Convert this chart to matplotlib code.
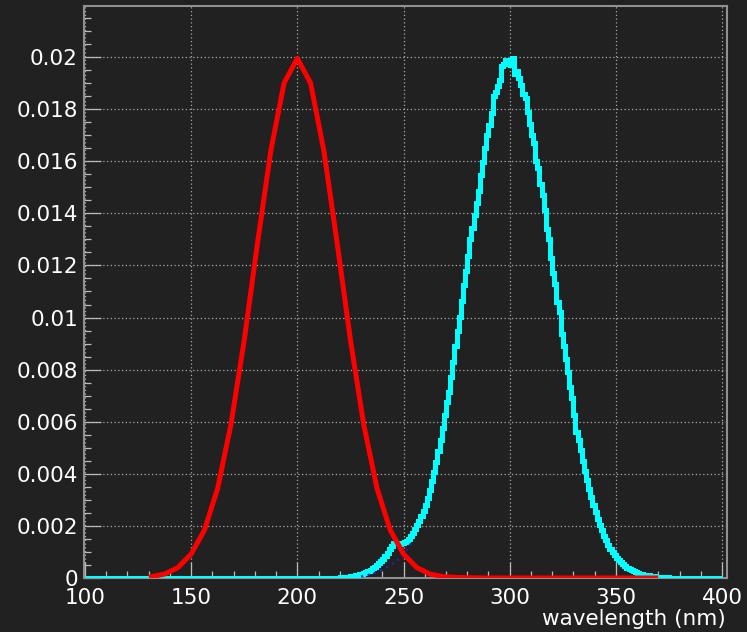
import matplotlib
matplotlib.use("Agg")
import matplotlib.pyplot as plt
import numpy as np
from matplotlib.ticker import MultipleLocator, FixedLocator, FixedFormatter

# red curve: sampled points of the smooth function (wavelength in nm)
red_wl = [131.25, 137.5, 143.75, 150, 156.25, 162.5, 168.75, 175, 181.25, 187.5,
          193.75, 200, 206.25, 212.5, 218.75, 225, 231.25, 237.5, 243.75, 250,
          256.25, 262.5, 268.75, 275, 281.25, 287.5, 293.75, 300, 306.25, 312.5,
          318.75, 325, 331.25, 337.5, 343.75, 350, 356.25, 362.5, 368.75]
red_val = [0.00005, 0.00015, 0.00040, 0.00092, 0.00184, 0.00345, 0.00590, 0.00914, 0.01286, 0.01640,
           0.01900, 0.01995, 0.01900, 0.01640, 0.01286, 0.00914, 0.00590, 0.00345, 0.00184, 0.00092,
           0.00040, 0.00015, 0.00005, 0.00002, 0.00001, 0.0, 0.0, 0.0, 0.0, 0.0,
           0.0, 0.0, 0.0, 0.0, 0.0, 0.0, 0.0, 0.0, 0.0]

# cyan histogram: 1 nm bins from 100 to 400, non-zero content from bin 220 on
hist_lo, hist_hi = 100, 400
cyan_first_bin = 220
cyan_val = [
    0.00002, 0.00002, 0.00003, 0.00004, 0.00005, 0.00007, 0.00008, 0.00010, 0.00012, 0.00014,  # 220
    0.00017, 0.00020, 0.00024, 0.00028, 0.00032, 0.00037, 0.00043, 0.00050, 0.00057, 0.00065,  # 230
    0.00074, 0.00085, 0.00097, 0.00110, 0.00124, 0.00133, 0.00136, 0.00135, 0.00131, 0.00133,  # 240
    0.00137, 0.00142, 0.00150, 0.00160, 0.00172, 0.00187, 0.00203, 0.00220, 0.00238, 0.00258,  # 250
    0.00282, 0.00308, 0.00338, 0.00372, 0.00408, 0.00446, 0.00486, 0.00528, 0.00575, 0.00624,  # 260
    0.00676, 0.00716, 0.00772, 0.00828, 0.00889, 0.00948, 0.01003, 0.01065, 0.01125, 0.01180,  # 270
    0.01238, 0.01302, 0.01345, 0.01392, 0.01438, 0.01487, 0.01548, 0.01596, 0.01650, 0.01702,  # 280
    0.01741, 0.01785, 0.01852, 0.01866, 0.01890, 0.01912, 0.01965, 0.01972, 0.01990, 0.01985,  # 290
    0.01968, 0.01995, 0.01935, 0.01945, 0.01920, 0.01892, 0.01860, 0.01843, 0.01790, 0.01745,  # 300
    0.01700, 0.01672, 0.01600, 0.01575, 0.01512, 0.01470, 0.01413, 0.01340, 0.01300, 0.01228,  # 310
    0.01170, 0.01130, 0.01060, 0.01020, 0.00935, 0.00890, 0.00840, 0.00790, 0.00735, 0.00690,  # 320
    0.00625, 0.00560, 0.00530, 0.00492, 0.00450, 0.00410, 0.00378, 0.00340, 0.00310, 0.00282,  # 330
    0.00252, 0.00228, 0.00205, 0.00183, 0.00160, 0.00145, 0.00128, 0.00112, 0.00100, 0.00088,  # 340
    0.00078, 0.00068, 0.00060, 0.00052, 0.00045, 0.00040, 0.00035, 0.00030, 0.00026, 0.00023,  # 350
    0.00020, 0.00017, 0.00015, 0.00013, 0.00011, 0.00010, 0.00008, 0.00007, 0.00006, 0.00005,  # 360
    0.00004, 0.00003, 0.00003, 0.00002, 0.00002,                                               # 370
]

# blue dotted curve (fit tail)
blue_wl = [230, 232, 234, 236, 238, 240, 242, 244, 246, 248, 250, 252, 254]
blue_val = [0.00006, 0.00009, 0.00013, 0.00018, 0.00024, 0.00031, 0.00040,
            0.00050, 0.00061, 0.00074, 0.00088, 0.00112, 0.00140]

x_ticks = [100, 150, 200, 250, 300, 350, 400]
x_labels = ["100", "150", "200", "250", "300", "350", "400"]
y_ticks = [0, 0.002, 0.004, 0.006, 0.008, 0.01, 0.012, 0.014, 0.016, 0.018, 0.02]
y_labels = ["0", "0.002", "0.004", "0.006", "0.008", "0.01", "0.012",
            "0.014", "0.016", "0.018", "0.02"]

bg = "#212121"
plt.rcParams["font.family"] = ["DejaVu Sans"]

fig = plt.figure(figsize=(7.47, 6.32), dpi=100, facecolor=bg)
ax = fig.add_axes([83.5 / 747, 54 / 632, 643 / 747, 571.7 / 632])
ax.set_facecolor(bg)

edges = np.arange(hist_lo, hist_hi + 1)
counts = np.zeros(len(edges) - 1)
counts[cyan_first_bin - hist_lo:cyan_first_bin - hist_lo + len(cyan_val)] = cyan_val

ax.stairs(counts, edges, color="#00ffff", lw=3.6, zorder=3)
ax.plot(blue_wl, blue_val, color="#2222bb", lw=1.6, ls=(0, (1, 2)), zorder=4)
ax.plot(red_wl, red_val, color="#ff0000", lw=3.6, zorder=5)

ax.set_xlim(99.29, 402.12)
ax.set_ylim(0, 0.02195)

ax.xaxis.set_major_locator(FixedLocator(x_ticks))
ax.xaxis.set_major_formatter(FixedFormatter(x_labels))
ax.xaxis.set_minor_locator(MultipleLocator(10))
ax.yaxis.set_major_locator(FixedLocator(y_ticks))
ax.yaxis.set_major_formatter(FixedFormatter(y_labels))
ax.yaxis.set_minor_locator(MultipleLocator(0.0005))

ax.tick_params(which="both", direction="in", colors="#bbbbbb", width=0.9,
               labelcolor="white", labelsize=15.5)
ax.tick_params(axis="x", which="major", length=11.5, pad=7.5)
ax.tick_params(axis="x", which="minor", length=5)
ax.tick_params(axis="y", which="major", length=12, pad=4)
ax.tick_params(axis="y", which="minor", length=5)

ax.grid(True, which="major", color="#aaaaaa", lw=0.9, ls=(0, (1, 2)))
ax.set_axisbelow(True)

for sp in ax.spines.values():
    sp.set_color("#909090")
    sp.set_linewidth(1.5)

fig.text(726 / 747, 1 - 619 / 632, "wavelength (nm)", color="white",
         fontsize=15.5, ha="right", va="center")

fig.savefig("out.png", dpi=100, facecolor=bg)
